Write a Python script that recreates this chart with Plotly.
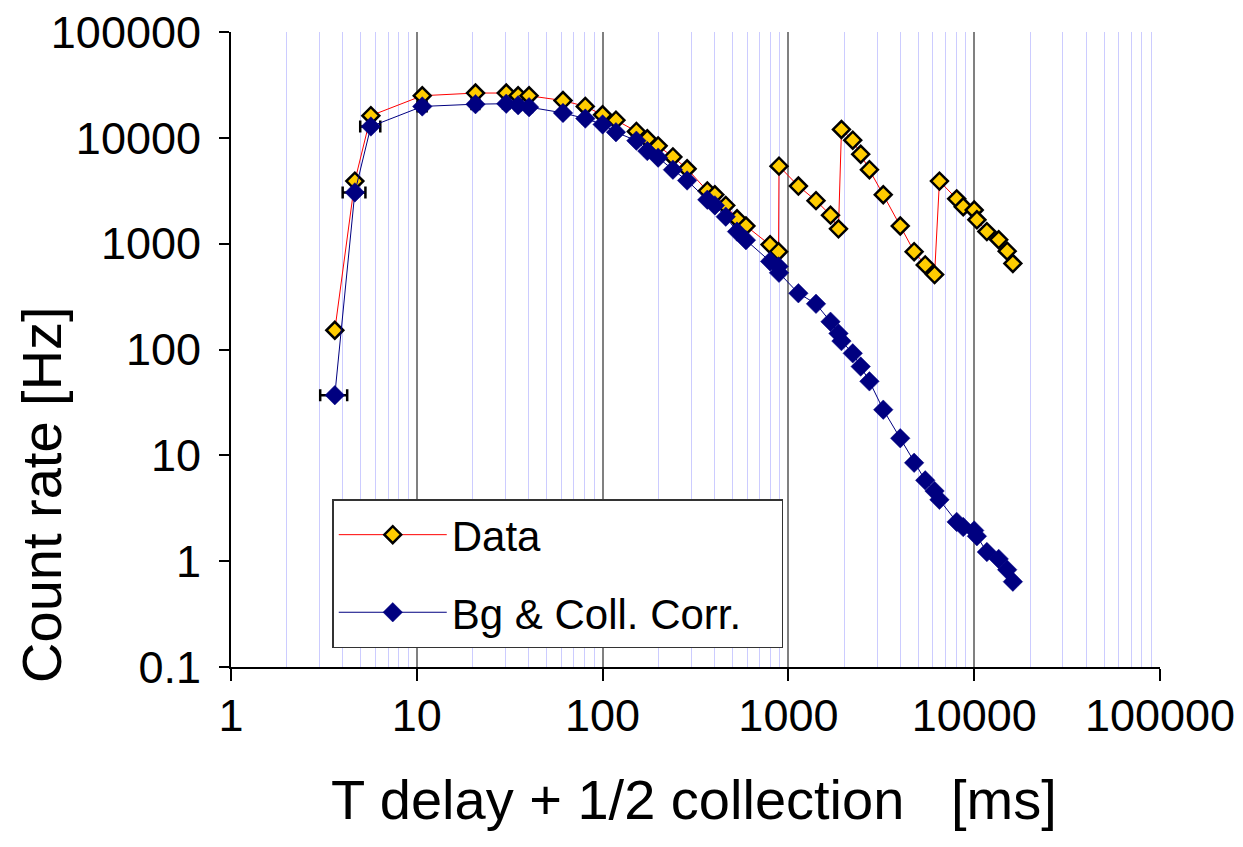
import plotly.graph_objects as go

# ---- data ----
t_ms = [3.62, 4.64, 5.66, 10.7, 20.7, 30.3, 35.1, 40.2, 61.2, 80.7,
        100, 118, 152, 174, 199, 239, 285, 366, 402, 460,
        529, 591, 797, 885, 890, 1132, 1408, 1685, 1860, 1930,
        2220, 2450, 2730, 3240, 4000, 4750, 5450, 6120, 6500, 8050,
        8730, 10000, 10340, 11700, 13550, 15050, 16150]

data_rate = [152, 3900, 16200, 25000, 26500, 26500, 25000, 25000, 22500, 19800,
             16500, 14700, 11500, 9800, 8400, 6600, 5100, 3150, 2900, 2300,
             1720, 1470, 980, 840, 5400, 3500, 2550, 1860, 1380, 12000,
             9500, 7000, 5000, 2900, 1470, 840, 630, 510, 3900, 2650,
             2230, 2080, 1680, 1300, 1090, 850, 650]

corr_rate = [37, 3050, 12800, 19800, 20800, 21000, 20300, 19500, 17200, 15200,
             13400, 11300, 9400, 7500, 6500, 5000, 3950, 2600, 2300, 1800,
             1300, 1080, 680, 610, 530, 340, 270, 183, 142, 120,
             92, 69, 50, 27, 14.5, 8.5, 5.8, 4.6, 3.8, 2.35,
             2.1, 1.95, 1.72, 1.22, 1.05, 0.83, 0.64]

t_err = [0.6, 0.65, 0.7, 0.6, 1.0, 1.2, 1.3, 1.5, 2, 2.5,
         3, 3.5, 4, 5, 5, 6, 7, 8, 9, 10,
         11, 12, 15, 16, 16, 20, 25, 30, 33, 35,
         40, 45, 50, 60, 70, 80, 100, 110, 120, 150,
         160, 180, 190, 210, 240, 270, 290]

x_tickvals = [1, 10, 100, 1000, 10000, 100000]
x_ticktext = ["1", "10", "100", "1000", "10000", "100000"]
y_tickvals = [0.1, 1, 10, 100, 1000, 10000, 100000]
y_ticktext = ["0.1", "1", "10", "100", "1000", "10000", "100000"]

FONT = "Liberation Sans, Arial, sans-serif"

fig = go.Figure()

fig.add_trace(go.Scatter(
    x=t_ms, y=data_rate, name="Data", mode="lines+markers",
    legendgroup="a",
    line=dict(color="#FF0000", width=1),
    marker=dict(symbol="diamond", size=13, color="#FFCC00",
                line=dict(color="black", width=2.5)),
))

fig.add_trace(go.Scatter(
    x=t_ms, y=corr_rate, name="Bg & Coll. Corr.\u00a0\u00a0\u00a0", mode="lines+markers",
    legendgroup="b",
    line=dict(color="#000080", width=1),
    marker=dict(symbol="diamond", size=15, color="#000080",
                line=dict(color="#000080", width=0.5)),
    error_x=dict(type="data", array=t_err, color="black",
                 thickness=2.5, width=6),
))

fig.update_layout(
    width=1243, height=847,
    margin=dict(l=231, r=83, t=32, b=180, autoexpand=False),
    paper_bgcolor="white", plot_bgcolor="white",
    font=dict(family=FONT, color="black"),
    showlegend=True,
    legend=dict(
        x=0.109, y=0.264, xanchor="left", yanchor="top",
        bgcolor="white", bordercolor="#333333", borderwidth=1.5,
        font=dict(family=FONT, size=42, color="black"),
        traceorder="grouped", tracegroupgap=20,
        itemwidth=108,
    ),
    annotations=[
        dict(text="Count rate [Hz]", textangle=-90, showarrow=False,
             xref="paper", yref="paper", x=-0.2034, y=0.271,
             xanchor="center", yanchor="middle",
             font=dict(family=FONT, size=56, color="black")),
        dict(text="T delay + 1/2 collection   [ms]", showarrow=False,
             xref="paper", yref="paper", x=0.498, y=-0.209,
             xanchor="center", yanchor="middle",
             font=dict(family=FONT, size=56, color="black")),
    ],
)

fig.update_xaxes(
    type="log", range=[0, 5], automargin=False,
    tickmode="array", tickvals=x_tickvals, ticktext=x_ticktext,
    ticks="outside", ticklen=12, tickwidth=1.5, tickcolor="black",
    ticklabelstandoff=-4, ticklabeloverflow="allow",
    tickfont=dict(family=FONT, size=45, color="black"),
    showline=True, linecolor="black", linewidth=2,
    showgrid=True, gridcolor="#808080", gridwidth=1.5,
    minor=dict(dtick="D1", showgrid=True, gridcolor="#CCCCFF",
               gridwidth=1, ticks=""),
    zeroline=False,
)

fig.update_yaxes(
    type="log", range=[-1, 5], automargin=False,
    tickmode="array", tickvals=y_tickvals, ticktext=y_ticktext,
    ticks="outside", ticklen=10, tickwidth=1.5, tickcolor="black",
    ticklabelstandoff=9, ticklabeloverflow="allow",
    tickfont=dict(family=FONT, size=45, color="black"),
    showline=True, linecolor="black", linewidth=2,
    showgrid=False, zeroline=False,
)

fig.write_html("out.html",
               config={"displayModeBar": False},
               post_script="document.body.style.margin='0';"
                           "document.body.style.padding='0';")
